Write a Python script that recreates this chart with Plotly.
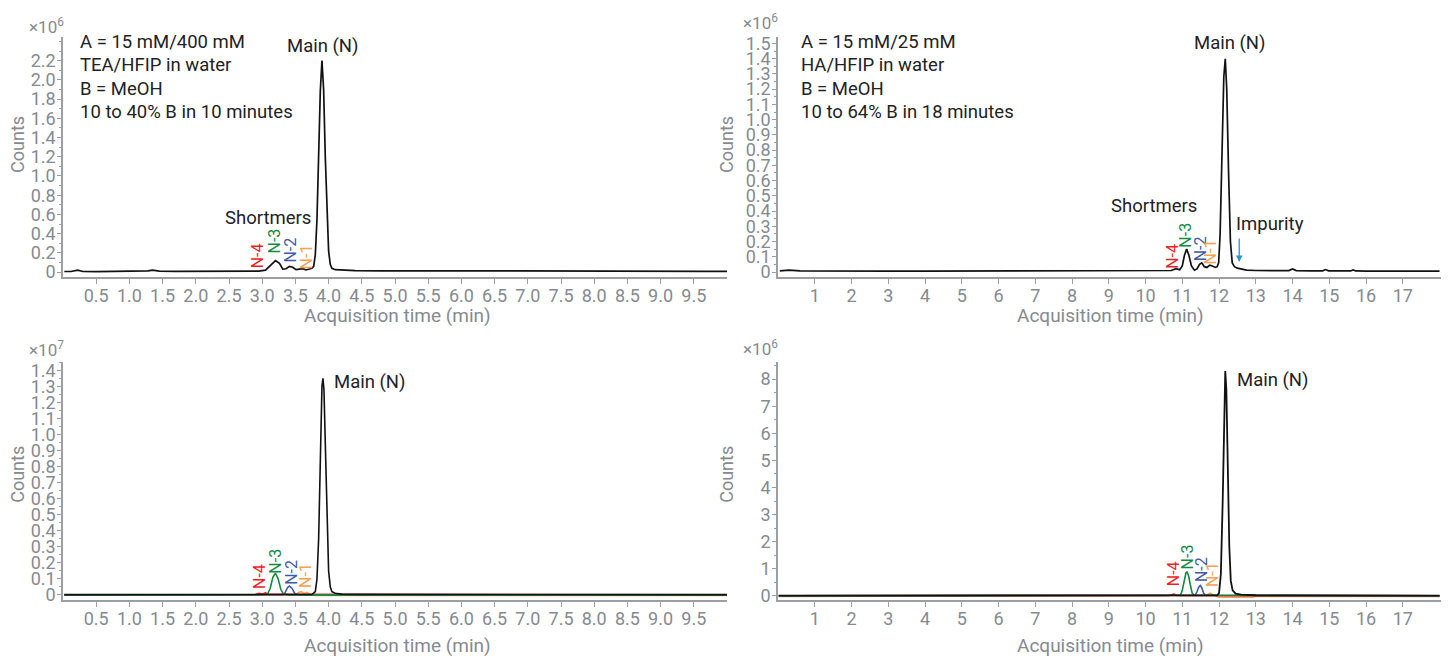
import plotly.graph_objects as go

# ---------------- DATA ----------------
# Top-left: TEA/HFIP TIC (counts x10^6)
TL_T = [0.02, 0.12, 0.22, 0.3, 0.5, 0.8, 1.1, 1.28, 1.35, 1.45, 1.7, 2.0, 2.3, 2.6, 2.8, 2.95, 3.05, 3.12,
        3.2, 3.26, 3.31, 3.36, 3.41, 3.46, 3.51, 3.56, 3.61, 3.66, 3.72, 3.75, 3.775, 3.8, 3.825, 3.85, 3.875,
        3.9, 3.925, 3.95, 3.975, 4.0, 4.025, 4.05, 4.1, 4.2, 4.4, 4.8, 5.3, 5.8, 6.3, 6.8, 7.3, 7.8, 8.3, 8.8,
        9.3, 9.7, 10.0]
TL_Y = [0.006, 0.006, 0.02, 0.006, 0.005, 0.005, 0.008, 0.012, 0.02, 0.01, 0.007, 0.006, 0.006, 0.007,
        0.008, 0.01, 0.02, 0.07, 0.12, 0.09, 0.03, 0.035, 0.06, 0.05, 0.025, 0.03, 0.035, 0.022, 0.03, 0.04,
        0.06, 0.18, 0.55, 1.2, 1.88, 2.2, 1.9, 1.2, 0.58, 0.22, 0.08, 0.04, 0.025, 0.02, 0.015, 0.012, 0.01,
        0.01, 0.012, 0.012, 0.01, 0.01, 0.01, 0.01, 0.009, 0.008, 0.008]

# Top-right: HA/HFIP TIC (counts x10^6)
TR_T = [0.05, 0.3, 0.6, 1.0, 2.0, 3.0, 4.0, 5.0, 6.0, 7.0, 8.0, 9.0, 10.0, 10.5, 10.7, 10.83, 10.93, 11.0,
        11.06, 11.12, 11.18, 11.25, 11.33, 11.4, 11.47, 11.53, 11.6, 11.67, 11.75, 11.82, 11.9, 11.95, 11.99,
        12.03, 12.08, 12.13, 12.17, 12.21, 12.26, 12.31, 12.36, 12.42, 12.5, 12.6, 12.75, 13.0, 13.5, 13.9,
        14.0, 14.1, 14.5, 14.82, 14.9, 14.98, 15.3, 15.58, 15.65, 15.72, 16.0, 16.5, 17.0, 17.5, 18.0]
TR_Y = [0.008, 0.012, 0.008, 0.007, 0.006, 0.006, 0.006, 0.006, 0.006, 0.007, 0.007, 0.008, 0.009, 0.01,
        0.01, 0.022, 0.015, 0.04, 0.11, 0.15, 0.11, 0.04, 0.012, 0.02, 0.05, 0.06, 0.035, 0.03, 0.045, 0.04,
        0.03, 0.035, 0.06, 0.25, 0.75, 1.28, 1.4, 1.2, 0.65, 0.2, 0.06, 0.035, 0.025, 0.018, 0.012, 0.01,
        0.009, 0.009, 0.02, 0.009, 0.008, 0.008, 0.016, 0.008, 0.007, 0.007, 0.014, 0.007, 0.006, 0.006,
        0.006, 0.006, 0.006]

# Bottom-left: EICs, TEA/HFIP (counts x10^7)
BL_MAIN_T = [0.02, 1.0, 2.0, 3.0, 3.6, 3.75, 3.8, 3.825, 3.85, 3.875, 3.9, 3.915, 3.93, 3.95, 3.975, 4.0,
             4.025, 4.05, 4.1, 4.2, 4.5, 5.5, 7.0, 8.5, 10.0]
BL_MAIN_Y = [0.002, 0.002, 0.002, 0.002, 0.002, 0.003, 0.02, 0.1, 0.35, 0.85, 1.3, 1.35, 1.28, 0.95, 0.45,
             0.15, 0.05, 0.02, 0.01, 0.005, 0.003, 0.002, 0.002, 0.002, 0.002]
BL_N3_T = [0.02, 1.25, 1.32, 1.4, 3.0, 3.08, 3.12, 3.16, 3.2, 3.24, 3.28, 3.32, 3.4, 10.0]
BL_N3_Y = [0.0, 0.0, 0.004, 0.0, 0.001, 0.005, 0.04, 0.11, 0.135, 0.1, 0.035, 0.005, 0.0, 0.0]
BL_N2_T = [0.02, 3.3, 3.34, 3.38, 3.41, 3.45, 3.49, 3.53, 10.0]
BL_N2_Y = [0.0, 0.001, 0.01, 0.045, 0.055, 0.04, 0.01, 0.001, 0.0]
BL_N1_T = [0.02, 3.5, 3.55, 3.59, 3.63, 3.67, 3.72, 3.8, 10.0]
BL_N1_Y = [-0.002, 0.001, 0.015, 0.02, 0.008, 0.015, 0.003, -0.003, -0.003]
BL_N4_T = [0.02, 2.9, 2.95, 3.0, 3.05, 3.1, 10.0]
BL_N4_Y = [0.0, 0.002, 0.01, 0.005, 0.012, 0.003, 0.0]

# Bottom-right: EICs, HA/HFIP (counts x10^6)
BR_MAIN_T = [0.02, 2.0, 5.0, 8.0, 10.0, 11.9, 11.95, 12.0, 12.05, 12.1, 12.14, 12.17, 12.2, 12.24, 12.28,
             12.32, 12.37, 12.45, 12.6, 13.0, 15.0, 18.0]
BR_MAIN_Y = [0.01, 0.01, 0.01, 0.01, 0.01, 0.01, 0.02, 0.1, 0.8, 3.5, 7.0, 8.3, 7.6, 4.6, 1.8, 0.55, 0.2,
             0.08, 0.04, 0.02, 0.01, 0.01]
BR_N3_T = [0.02, 10.95, 11.0, 11.05, 11.1, 11.13, 11.17, 11.22, 11.27, 11.32, 18.0]
BR_N3_Y = [0.0, 0.02, 0.2, 0.55, 0.85, 0.88, 0.75, 0.4, 0.1, 0.02, 0.0]
BR_N2_T = [0.02, 11.35, 11.4, 11.45, 11.49, 11.53, 11.58, 11.63, 18.0]
BR_N2_Y = [0.0, 0.02, 0.15, 0.33, 0.38, 0.3, 0.1, 0.02, 0.0]
BR_N1_T = [0.02, 11.65, 11.7, 11.76, 11.82, 11.88, 12.0, 12.9, 13.0, 18.0]
BR_N1_Y = [-0.02, 0.01, 0.06, 0.1, 0.05, 0.01, -0.05, -0.05, -0.02, -0.02]
BR_N4_T = [0.02, 10.65, 10.72, 10.78, 10.85, 18.0]
BR_N4_Y = [0.0, 0.01, 0.05, 0.06, 0.01, 0.0]

# Axis ticks
X_TICKS_L = [0.5, 1.0, 1.5, 2.0, 2.5, 3.0, 3.5, 4.0, 4.5, 5.0, 5.5, 6.0, 6.5, 7.0, 7.5, 8.0, 8.5, 9.0, 9.5]
X_TICKS_R = [1, 2, 3, 4, 5, 6, 7, 8, 9, 10, 11, 12, 13, 14, 15, 16, 17]
Y_TICKS_TL = [0, 0.2, 0.4, 0.6, 0.8, 1.0, 1.2, 1.4, 1.6, 1.8, 2.0, 2.2]
Y_TICKS_TR = [0, 0.1, 0.2, 0.3, 0.4, 0.5, 0.6, 0.7, 0.8, 0.9, 1.0, 1.1, 1.2, 1.3, 1.4, 1.5]
Y_TICKS_BL = [0, 0.1, 0.2, 0.3, 0.4, 0.5, 0.6, 0.7, 0.8, 0.9, 1.0, 1.1, 1.2, 1.3, 1.4]
Y_TICKS_BR = [0, 1, 2, 3, 4, 5, 6, 7, 8]

COND_L = ["A = 15 mM/400 mM", "TEA/HFIP in water", "B = MeOH", "10 to 40% B in 10 minutes"]
COND_R = ["A = 15 mM/25 mM", "HA/HFIP in water", "B = MeOH", "10 to 64% B in 18 minutes"]

# ---------------- STYLE ----------------
OFF = 8                      # page body margin of the html page
W, H = 1450 - OFF, 662 - OFF
FONT = "Roboto"
GRAY = "#868a90"
AXIS = "#9b9ea3"
TXT = "#222222"
RED = "#ee1c25"
GREEN = "#138a3f"
BLUE = "#3d5aa8"
ORANGE = "#f7a04f"
ARROW = "#2a93d5"


def px(x):
    return (x - OFF) / W


def py(y):
    return 1 - (y - OFF) / H


fig = go.Figure()


def line(x, y, color, xa, ya, width=1.6):
    fig.add_trace(go.Scatter(x=x, y=y, mode="lines", line=dict(color=color, width=width),
                             xaxis=xa, yaxis=ya, showlegend=False, hoverinfo="skip"))


line(TL_T, TL_Y, "#111111", "x", "y", 1.7)
line(TR_T, TR_Y, "#111111", "x2", "y2", 1.7)

line(BL_N1_T, BL_N1_Y, ORANGE, "x3", "y3")
line(BL_N4_T, BL_N4_Y, RED, "x3", "y3")
line(BL_N2_T, BL_N2_Y, BLUE, "x3", "y3")
line(BL_N3_T, BL_N3_Y, GREEN, "x3", "y3")
line(BL_MAIN_T, BL_MAIN_Y, "#111111", "x3", "y3")

line(BR_N1_T, BR_N1_Y, ORANGE, "x4", "y4")
line(BR_N4_T, BR_N4_Y, RED, "x4", "y4")
line(BR_N2_T, BR_N2_Y, BLUE, "x4", "y4")
line(BR_N3_T, BR_N3_Y, GREEN, "x4", "y4")
line(BR_MAIN_T, BR_MAIN_Y, "#111111", "x4", "y4", 1.8)

TICKSIZE = 18


def xax(dom, rng, ticks, yanchor, decimals):
    return dict(domain=dom, range=rng, anchor=yanchor, tickvals=ticks,
                ticktext=[("%.1f" % t) if decimals else ("%d" % t) for t in ticks],
                showline=True, linecolor=AXIS, linewidth=1.5, ticks="outside", ticklen=5,
                tickcolor=AXIS, tickwidth=1.2, showgrid=False, zeroline=False, ticklabelstandoff=-3,
                tickfont=dict(family=FONT, size=TICKSIZE, color=GRAY), fixedrange=True)


def yax(dom, rng, ticks, xanchor, labels, minor_dt):
    return dict(domain=dom, range=rng, anchor=xanchor, tickvals=ticks, ticktext=labels,
                showline=True, linecolor=AXIS, linewidth=1.5, ticks="outside", ticklen=4,
                tickcolor=AXIS, tickwidth=1.2, showgrid=False, zeroline=False, ticklabelstandoff=-2,
                minor=dict(dtick=minor_dt, ticks="outside", ticklen=2, tickcolor=AXIS, showgrid=False),
                tickfont=dict(family=FONT, size=TICKSIZE, color=GRAY), fixedrange=True)


XL = [px(63), px(727)]
XR = [px(778), px(1441)]
YT = [py(277), py(33)]
YB = [py(605), py(363)]


def lab(ticks, d):
    return ["0" if t == 0 else (("%.1f" % t) if d else ("%d" % t)) for t in ticks]


fig.update_layout(
    width=W, height=H, margin=dict(l=0, r=0, t=0, b=0),
    paper_bgcolor="white", plot_bgcolor="white",
    font=dict(family=FONT, color=TXT),
    xaxis=xax(XL, [0, 10], X_TICKS_L, "y", True),
    xaxis2=xax(XR, [0, 18.04], X_TICKS_R, "y2", False),
    xaxis3=xax(XL, [0, 10], X_TICKS_L, "y3", True),
    xaxis4=xax(XR, [0, 18.04], X_TICKS_R, "y4", False),
    yaxis=yax(YT, [-0.05, 2.45], Y_TICKS_TL, "x", lab(Y_TICKS_TL, True), 0.1),
    yaxis2=yax(YT, [-0.032, 1.545], Y_TICKS_TR, "x2", lab(Y_TICKS_TR, True), 0.05),
    yaxis3=yax(YB, [-0.031, 1.455], Y_TICKS_BL, "x3", lab(Y_TICKS_BL, True), 0.05),
    yaxis4=yax(YB, [-0.15, 8.65], Y_TICKS_BR, "x4", lab(Y_TICKS_BR, False), 0.5),
)

ann = []


def paper_text(text, x, y, size=18.5, color=TXT, angle=0, xanchor="center"):
    ann.append(dict(text=text, x=px(x), y=py(y), xref="paper", yref="paper", showarrow=False,
                    xanchor=xanchor, yanchor="middle", textangle=angle,
                    font=dict(family=FONT, size=size, color=color)))


def data_text(text, x, y, xa, ya, size=18.5, color=TXT, angle=0):
    ann.append(dict(text=text, x=x, y=y, xref=xa, yref=ya, showarrow=False,
                    xanchor="center", yanchor="middle", textangle=angle,
                    font=dict(family=FONT, size=size, color=color)))


# condition text blocks
for i, s in enumerate(COND_L):
    paper_text(s, 78, 38 + 24 * i, xanchor="left")
for i, s in enumerate(COND_R):
    paper_text(s, 799, 38 + 24 * i, xanchor="left")

# axis titles and multipliers
for xc, yc in [(18, 143), (727, 143), (18, 478), (727, 478)]:
    paper_text("Counts", xc, yc, 18, GRAY, angle=-90)
for xc, yc in [(397, 316), (1110, 316), (397, 651), (1110, 651)]:
    paper_text("Acquisition time (min)", xc, yc, 19, GRAY)
paper_text("×10<sup>6</sup>", 46, 22, 17, GRAY)
paper_text("×10<sup>6</sup>", 760, 18, 17, GRAY)
paper_text("×10<sup>7</sup>", 46, 350, 17, GRAY)
paper_text("×10<sup>6</sup>", 760, 349, 17, GRAY)

# peak labels
data_text("Main (N)", 3.92, 2.35, "x", "y")
data_text("Shortmers", 3.09, 0.56, "x", "y")
data_text("Main (N)", 12.3, 1.5, "x2", "y2")
data_text("Shortmers", 10.23, 0.43, "x2", "y2")
data_text("Impurity", 13.39, 0.317, "x2", "y2")
data_text("Main (N)", 4.63, 1.33, "x3", "y3")
data_text("Main (N)", 13.47, 7.96, "x4", "y4")

NS = 16
for xa, ya, pts in [
    ("x", "y", [(2.93, 0.17, "N-4", RED), (3.18, 0.32, "N-3", GREEN), (3.42, 0.225, "N-2", BLUE), (3.67, 0.16, "N-1", ORANGE)]),
    ("x2", "y2", [(10.75, 0.10, "N-4", RED), (11.1, 0.245, "N-3", GREEN), (11.48, 0.155, "N-2", BLUE), (11.78, 0.135, "N-1", ORANGE)]),
    ("x3", "y3", [(2.96, 0.115, "N-4", RED), (3.2, 0.21, "N-3", GREEN), (3.44, 0.14, "N-2", BLUE), (3.65, 0.12, "N-1", ORANGE)]),
    ("x4", "y4", [(10.75, 0.8, "N-4", RED), (11.13, 1.42, "N-3", GREEN), (11.51, 0.95, "N-2", BLUE), (11.84, 0.77, "N-1", ORANGE)]),
]:
    for (xx, yy, t, c) in pts:
        data_text(t, xx, yy, xa, ya, NS, c, angle=-90)

# impurity arrow
ann.append(dict(x=12.55, y=0.065, ax=12.55, ay=0.23, xref="x2", yref="y2", axref="x2", ayref="y2",
                showarrow=True, arrowhead=2, arrowsize=1, arrowwidth=1.3, arrowcolor=ARROW, text=""))

fig.update_layout(annotations=ann)
fig.write_html("out.html")
